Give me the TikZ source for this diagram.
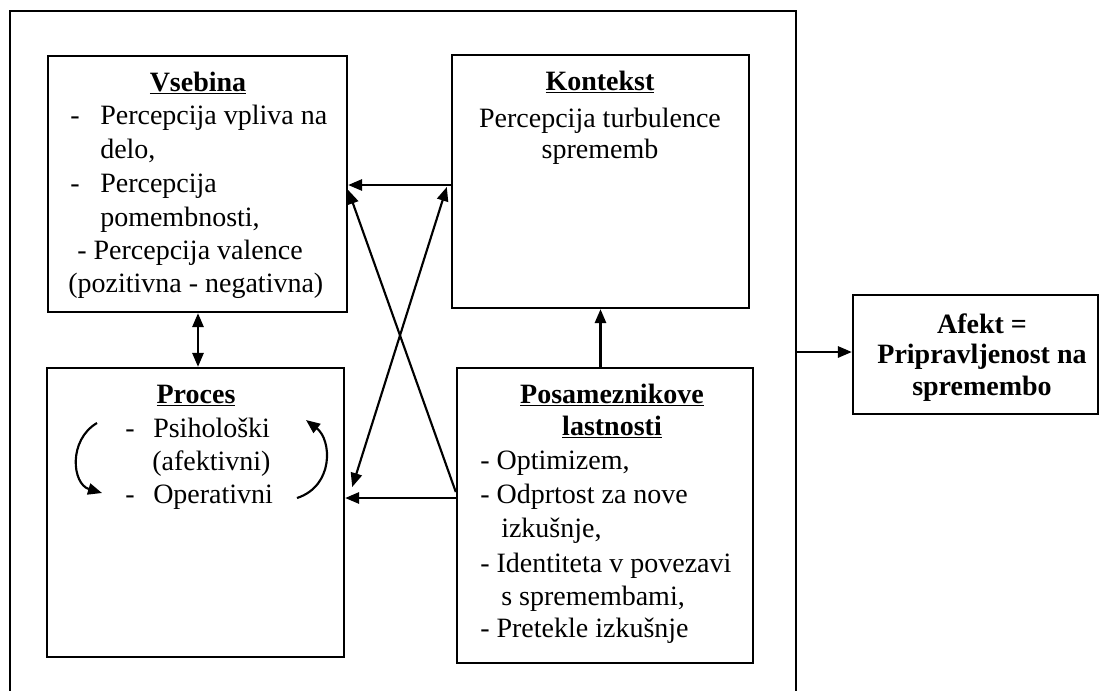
\documentclass[tikz,border=0pt]{standalone}
\usepackage{fontspec}
\setmainfont{Liberation Serif}
\usetikzlibrary{arrows.meta,fit,calc}
\begin{document}
\begin{tikzpicture}[x=0.75pt,y=-0.75pt,
  box/.style={draw,line width=1.8pt,inner sep=0pt},
  txt/.style={inner sep=0pt,font=\fontsize{21}{25}\selectfont},
  ttl/.style={inner sep=0pt,font=\fontsize{21}{25}\selectfont\bfseries},
  arr/.style={line width=1.6pt,-{Triangle[length=10.5pt,width=8.5pt]}},
  arrb/.style={line width=1.6pt,{Triangle[length=10.5pt,width=8.5pt]}-{Triangle[length=10.5pt,width=8.5pt]}}]
\useasboundingbox (0,0) rectangle (1101,690);
% outer frame
\draw[line width=1.8pt] (10,695) -- (10,11) -- (796,11) -- (796,695);
\coordinate (fr) at (796,352);
% boxes
\node[box,fit={(48,56) (347,312)}] (vseb) {};
\node[box,fit={(452,55) (749,308)}] (kont) {};
\node[box,fit={(47,368) (344,657)}] (proc) {};
\node[box,fit={(457,368) (753,663)}] (pos) {};
\node[box,fit={(853,295) (1098,414)}] (afekt) {};
% Vsebina text
\node[ttl,anchor=base] (vt) at (198,91) {\underline{Vsebina}};
\node[txt,anchor=base west] (v1d) at (70,124) {-};
\node[txt,anchor=base west] (v1) at (100,124) {Percepcija vpliva na};
\node[txt,anchor=base west] (v2) at (100,158) {delo,};
\node[txt,anchor=base west] (v3d) at (70,192) {-};
\node[txt,anchor=base west] (v3) at (100,192) {Percepcija};
\node[txt,anchor=base west] (v4) at (100,226) {pomembnosti,};
\node[txt,anchor=base west] (v5) at (77,259) {- Percepcija valence};
\node[txt,anchor=base west] (v6) at (68,292) {(pozitivna - negativna)};
% Kontekst text
\node[ttl,anchor=base] (kt) at (600,90) {\underline{Kontekst}};
\node[txt,anchor=base] (k1) at (600,127) {Percepcija turbulence};
\node[txt,anchor=base] (k2) at (600,158) {sprememb};
% Proces text
\node[ttl,anchor=base] (pt) at (196,403) {\underline{Proces}};
\node[txt,anchor=base west] (p1d) at (125,437) {-};
\node[txt,anchor=base west] (p1) at (153,437) {Psihološki};
\node[txt,anchor=base west] (p2) at (152,470) {(afektivni)};
\node[txt,anchor=base west] (p3d) at (125,503) {-};
\node[txt,anchor=base west] (p3) at (153,503) {Operativni};
% Posameznikove text
\node[ttl,anchor=base] (st1) at (612,403) {\underline{Posameznikove}};
\node[ttl,anchor=base] (st2) at (612,435) {\underline{lastnosti}};
\node[txt,anchor=base west] (s1) at (480,469) {- Optimizem,};
\node[txt,anchor=base west] (s2) at (480,503) {- Odprtost za nove};
\node[txt,anchor=base west] (s3) at (501,537) {izkušnje,};
\node[txt,anchor=base west] (s4) at (480,572) {- Identiteta v povezavi};
\node[txt,anchor=base west] (s5) at (501,605) {s spremembami,};
\node[txt,anchor=base west] (s6) at (480,637) {- Pretekle izkušnje};
% Afekt text
\node[ttl,anchor=base] (a1) at (982,333) {Afekt =};
\node[ttl,anchor=base] (a2) at (982,363) {Pripravljenost na};
\node[ttl,anchor=base] (a3) at (982,395) {spremembo};
% connectors
\draw[arr] (kont.west |- 0,185) -- (vseb.east |- 0,185);
\draw[arr] (pos.west |- 0,492) -- (vseb.east |- 0,190);
\draw[arrb] ($(proc.east |- 0,487)+(7,0)$) -- ($(kont.west |- 0,187)+(-4,0)$);
\draw[arr] (pos.west |- 0,498) -- (proc.east |- 0,498);
\draw[arrb] (vseb.south -| 198,0) -- (proc.north -| 198,0);
\draw[arr] (kont.south |- pos.north) -- (kont.south);
\draw[arr] (fr) -- (afekt.west |- fr);
% cycle arrows in Proces
\coordinate (cl1) at (97,423);
\coordinate (cl2) at (102,493);
\coordinate (cr1) at (297,498);
\coordinate (cr2) at (306,420);
\draw[arr] (cl1) .. controls (68,440) and (72,484) .. (cl2);
\draw[arr] (cr1) .. controls (334,486) and (332,440) .. (cr2);
\end{tikzpicture}
\end{document}
